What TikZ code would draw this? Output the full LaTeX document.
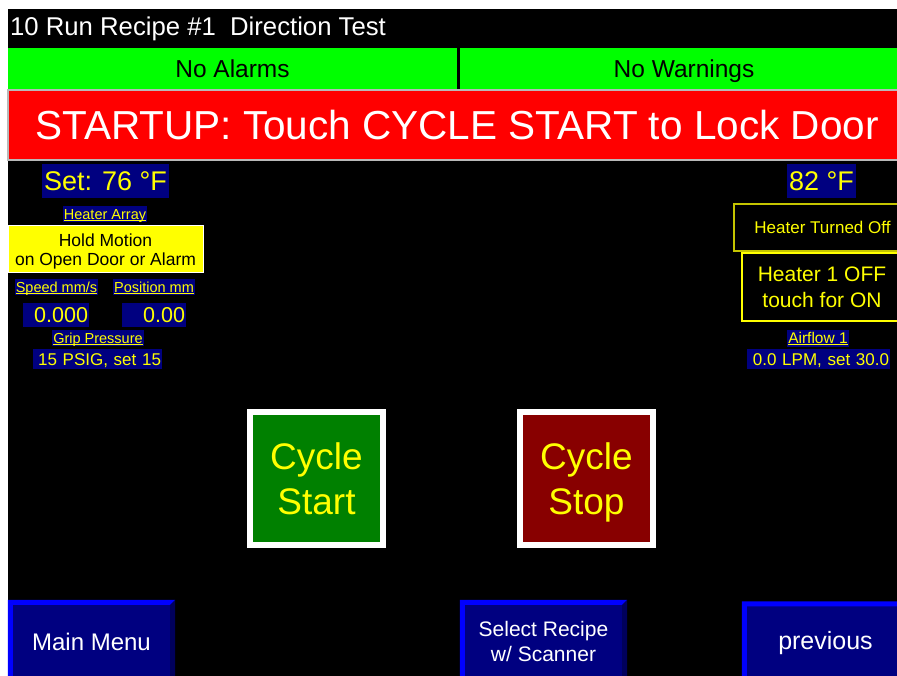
\documentclass[tikz,border=0pt]{standalone}
\usepackage{fontspec}
\setmainfont{Liberation Sans}
\usepackage{tikz}

\definecolor{hminavy}{HTML}{000080}
\definecolor{hmilime}{HTML}{00FF00}
\definecolor{hmired}{HTML}{FF0000}
\definecolor{hmiyellow}{HTML}{FFFF00}
\definecolor{hmiolive}{HTML}{C4C400}
\definecolor{gobtn}{HTML}{008000}
\definecolor{stopbtn}{HTML}{880000}
\definecolor{bevellight}{HTML}{0000FF}
\definecolor{beveldark}{HTML}{00005C}

% underlined tag text, rule sits just under the baseline
\newsavebox{\ulbox}
\newcommand{\hmiul}[1]{\sbox{\ulbox}{#1}\rlap{\rule[-1.6pt]{\wd\ulbox}{1pt}}\usebox{\ulbox}}

\begin{document}
\begin{tikzpicture}[x=1pt, y=-1pt,
    titletext/.style={anchor=west, inner sep=0pt, text=white,
      font=\fontsize{25.7}{30}\selectfont, text height=18.4pt, text depth=0pt},
    alarmbar/.style={fill=hmilime, inner sep=0pt, minimum height=41, text=black,
      font=\fontsize{24.5}{29}\selectfont, text height=17.6pt, text depth=0pt},
    banner/.style={fill=hmired, draw=gray!55, line width=1.5pt, inner sep=0pt,
      minimum width=898, minimum height=70, text=white,
      font=\fontsize{40.5}{48}\selectfont, text height=29pt, text depth=0pt},
    readout/.style={fill=hminavy, inner sep=0pt, minimum height=34, text=hmiyellow,
      font=\fontsize{27}{32}\selectfont, text height=19.4pt, text depth=0pt},
    tag/.style={fill=hminavy, inner xsep=1pt, inner ysep=0pt, minimum height=16,
      text=hmiyellow, font=\fontsize{14.5}{17}\selectfont,
      text height=10.4pt, text depth=0pt},
    valbox/.style={fill=hminavy, inner xsep=1pt, inner ysep=0pt, minimum height=24,
      align=right, text=hmiyellow, font=\fontsize{21.5}{26}\selectfont,
      text height=15.5pt, text depth=0pt},
    statbox/.style={fill=hminavy, inner xsep=1pt, inner ysep=0pt, minimum height=20,
      align=right, text=hmiyellow, font=\fontsize{17}{20}\selectfont,
      text height=12.2pt, text depth=0pt},
    % two-line boxes: height runs from the top line's caps to the last baseline
    holdbox/.style={fill=hmiyellow, draw=white, line width=1pt, inner sep=0pt,
      minimum width=195, minimum height=47, align=center, text=black,
      font=\fontsize{17.5}{19}\selectfont, text height=31.6pt, text depth=0pt},
    infobox/.style={draw=hmiolive, line width=1.5pt, inner sep=0pt,
      minimum width=177, minimum height=47, text=hmiyellow,
      font=\fontsize{17}{20}\selectfont, text height=12.2pt, text depth=0pt},
    togglebox/.style={draw=hmiyellow, line width=2pt, inner sep=0pt,
      minimum width=160, minimum height=68, align=center, text=hmiyellow,
      font=\fontsize{21}{25.3}\selectfont, text height=40.4pt, text depth=0pt},
    cyclebtn/.style={draw=white, line width=6pt, inner sep=0pt,
      minimum size=133, align=center, text=hmiyellow,
      font=\fontsize{37}{45}\selectfont, text height=71.6pt, text depth=0pt},
    menubtn/.style={fill=hminavy, inner sep=0pt, minimum width=167,
      minimum height=83, align=center, text=white},
  ]
  \useasboundingbox (0,0) rectangle (897,676);
  \clip (0,0) rectangle (897,676);
  \fill[white] (0,0) rectangle (897,676);
  \fill[black] (8,9) rectangle (897,676);

  % header, alarm bars and status banner
  \node[titletext] (title) at (10,26.8) {10 Run Recipe \#1\ \ Direction Test};
  \node[alarmbar, minimum width=449] (alarms) at (232.5,68.5) {No Alarms};
  \node[alarmbar, minimum width=448] (warnings) at (684,68.5) {No Warnings};
  \node[banner] (status) at (457,125) {STARTUP: Touch CYCLE START to Lock Door};

  % left column: heater set point and motion
  \node[readout, minimum width=127] (settemp) at (105.5,181) {Set: 76 °F};
  \node[tag] (heaterarray) at (105,214.5) {\hmiul{Heater Array}};
  \node[holdbox] (hold) at (105.5,249.5) {Hold Motion\\on Open Door or Alarm};
  \node[tag] (speedtag) at (56.5,287) {\hmiul{Speed mm/s}};
  \node[tag] (postag) at (154,287) {\hmiul{Position mm}};
  \node[valbox, text width=64] (speedval) at (56,315) {0.000};
  \node[valbox, text width=62] (posval) at (154,315) {0.00};
  \node[tag] (griptag) at (98,338) {\hmiul{Grip Pressure}};
  \node[statbox, text width=127] (gripval) at (97.5,359) {15 PSIG, set 15};

  % right column: actual temperature, heater and airflow
  \node[readout, minimum width=69] (acttemp) at (821.5,181) {82 °F};
  \node[infobox] (heateroff) at (822.5,227.5) {Heater Turned Off};
  \node[togglebox] (heatertoggle) at (822,287) {Heater 1 OFF\\touch for ON};
  \node[tag, minimum height=17, font=\fontsize{15.5}{18}\selectfont]
    (airtag) at (818,338.5) {\hmiul{Airflow 1}};
  \node[statbox, text width=141] (airval) at (818.5,359) {0.0 LPM, set 30.0};

  % cycle buttons
  \node[cyclebtn, fill=gobtn] (start) at (316.5,478.5) {Cycle\\Start};
  \node[cyclebtn, fill=stopbtn] (stop) at (586.5,478.5) {Cycle\\Stop};

  % bottom menu buttons
  \node[menubtn, font=\fontsize{24}{28}\selectfont, text height=17.3pt, text depth=0pt]
    (mainmenu) at (91.5,641.5) {Main Menu};
  \node[menubtn, font=\fontsize{21}{25}\selectfont, text height=40.1pt, text depth=0pt]
    (recipe) at (543.5,641.5) {Select Recipe\\w/ Scanner};
  \node[menubtn, font=\fontsize{25}{29}\selectfont, text height=13pt, text depth=0pt]
    (previous) at (825.5,643) {previous};
  \foreach \btn in {mainmenu,recipe,previous} {
    \fill[bevellight] (\btn.south west) -- (\btn.north west) -- (\btn.north east)
      -- ([shift={(-5,5)}]\btn.north east) -- ([shift={(5,5)}]\btn.north west)
      -- ([shift={(5,-5)}]\btn.south west) -- cycle;
    \fill[beveldark] (\btn.north east) -- (\btn.south east) -- (\btn.south west)
      -- ([shift={(5,-5)}]\btn.south west) -- ([shift={(-5,-5)}]\btn.south east)
      -- ([shift={(-5,5)}]\btn.north east) -- cycle;
  }
\end{tikzpicture}
\end{document}
